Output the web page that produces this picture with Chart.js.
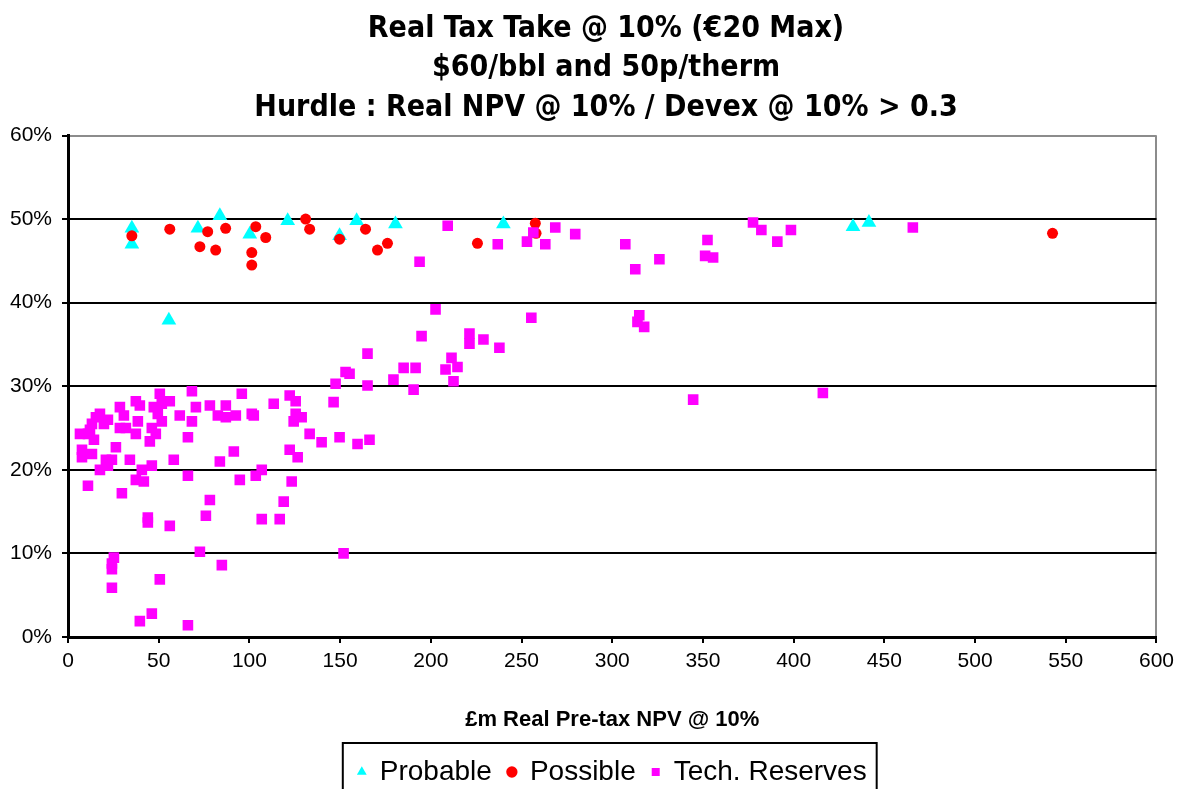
<!DOCTYPE html>
<html>
<head>
<meta charset="utf-8">
<script src="https://cdn.jsdelivr.net/npm/chart.js@4.4.0/dist/chart.umd.min.js"></script>
<style>
  html, body { margin: 0; padding: 0; background: #ffffff; }
  #wrap { width: 1180px; height: 789px; }
</style>
</head>
<body>
<div id="wrap"><canvas id="tax-chart" width="1180" height="789"></canvas></div>
<script>
// Title and axis text
const titleLines = [
  'Real Tax Take @ 10% (€20 Max)',
  '$60/bbl and 50p/therm',
  'Hurdle : Real NPV @ 10% / Devex @ 10% > 0.3'
];
const xAxisTitle = '£m Real Pre-tax NPV @ 10%';
const xTicks = [0, 50, 100, 150, 200, 250, 300, 350, 400, 450, 500, 550, 600];
const yTicks = [0, 10, 20, 30, 40, 50, 60];

// [pre-tax NPV £m, tax take %]
const probable = [
  [35.2, 48.9], [35.2, 47.0], [55.6, 37.9], [71.6, 48.9], [83.7, 50.4],
  [100.2, 48.2], [121.1, 49.8], [149.7, 48.0], [159.1, 49.8], [180.5, 49.4],
  [240.0, 49.4], [432.7, 49.1], [441.5, 49.6]
];

const possible = [
  [35.2, 48.0], [56.1, 48.8], [72.7, 46.7], [77.0, 48.5], [81.4, 46.3],
  [86.9, 48.9], [101.3, 46.0], [101.3, 44.5], [103.5, 49.1], [109.0, 47.8],
  [131.0, 50.0], [133.2, 48.8], [149.7, 47.6], [164.0, 48.8], [170.6, 46.3],
  [176.1, 47.1], [225.7, 47.1], [257.6, 49.5], [258.0, 48.3], [542.7, 48.3]
];

const techReserves = [
  [209.3, 49.2], [193.8, 44.9], [236.9, 47.0], [253.0, 47.3], [256.5, 48.4],
  [263.1, 47.0], [268.6, 49.0], [279.6, 48.2], [307.2, 47.0], [312.7, 44.0],
  [326.0, 45.2], [202.6, 39.2], [255.4, 38.2], [314.9, 38.5], [313.9, 37.7],
  [317.6, 37.1], [352.5, 47.5], [351.2, 45.6], [355.6, 45.4], [377.6, 49.6],
  [382.2, 48.7], [391.0, 47.3], [398.5, 48.7], [465.7, 49.0], [344.6, 28.4],
  [416.1, 29.2],
  [194.9, 36.0], [221.3, 36.3], [221.3, 35.1], [229.0, 35.6], [237.8, 34.6],
  [165.1, 33.9], [211.4, 33.4], [214.7, 32.3], [208.1, 32.0], [212.5, 30.6],
  [185.0, 32.2], [191.6, 32.2], [153.0, 31.7], [155.2, 31.5], [147.5, 30.3],
  [165.1, 30.1], [179.4, 30.8], [190.5, 29.6], [146.4, 28.1], [133.2, 24.3],
  [139.8, 23.3], [149.7, 23.9], [159.6, 23.1], [166.2, 23.6], [151.9, 10.0],
  [50.6, 29.1], [68.3, 29.4], [95.8, 29.1], [122.2, 28.9], [125.5, 28.2],
  [37.4, 28.2], [39.6, 27.7], [56.1, 28.2], [28.6, 27.5], [47.3, 27.5],
  [51.7, 27.9], [70.5, 27.5], [78.2, 27.7], [87.0, 27.7], [113.4, 27.9],
  [17.6, 26.7], [30.8, 26.5], [49.5, 26.7], [61.6, 26.5], [82.6, 26.5],
  [87.0, 26.3], [92.5, 26.5], [101.3, 26.7], [102.4, 26.5], [125.5, 26.7],
  [128.8, 26.3], [15.4, 26.3], [22.0, 26.0], [19.8, 25.5], [38.5, 25.8],
  [51.7, 25.8], [68.3, 25.8], [124.4, 25.8], [13.2, 25.5], [28.6, 25.0],
  [31.9, 25.0], [46.2, 25.0], [12.1, 24.8], [37.4, 24.3], [48.4, 24.3],
  [6.6, 24.3], [11.0, 24.3], [14.3, 23.6], [45.1, 23.4], [66.1, 23.9],
  [7.7, 22.4], [26.4, 22.7], [91.4, 22.2], [122.2, 22.4], [7.7, 21.5],
  [13.2, 21.9], [20.9, 21.2], [24.2, 21.2], [34.1, 21.2], [58.3, 21.2],
  [83.7, 21.0], [126.6, 21.5], [17.6, 20.0], [22.0, 20.5], [40.7, 20.0],
  [46.2, 20.5], [106.8, 20.0], [103.5, 19.3], [37.4, 18.8], [41.8, 18.6],
  [66.1, 19.3], [94.7, 18.8], [123.3, 18.6], [11.0, 18.1], [29.7, 17.2],
  [78.2, 16.4], [118.9, 16.2], [44.0, 14.3], [44.0, 13.7], [56.1, 13.3],
  [76.0, 14.5], [106.8, 14.1], [116.7, 14.1], [72.7, 10.2], [25.3, 9.5],
  [24.2, 8.8], [24.2, 8.1], [84.8, 8.6], [50.6, 6.9], [24.2, 5.9],
  [39.6, 1.9], [46.2, 2.8], [66.1, 1.4]
];

function toPoints(list) {
  return list.map(function(p) { return { x: p[0], y: p[1] }; });
}

Chart.defaults.font.family = "'Liberation Sans', Arial, sans-serif";
Chart.defaults.color = '#000000';

// Draws the frame round the legend, as in the spreadsheet original
const legendFrame = {
  id: 'legendFrame',
  afterDraw: function(chart) {
    const boxes = chart.legend && chart.legend.legendHitBoxes;
    if (!boxes || !boxes.length) return;
    let left = Infinity, right = -Infinity, top = Infinity;
    boxes.forEach(function(b) {
      left = Math.min(left, b.left);
      right = Math.max(right, b.left + b.width);
      top = Math.min(top, b.top);
    });
    const ctx = chart.ctx;
    ctx.save();
    ctx.strokeStyle = '#000000';
    ctx.lineWidth = 2;
    ctx.strokeRect(left - 15, top - 15, (right + 10) - (left - 15), 80);
    ctx.restore();
  }
};

new Chart(document.getElementById('tax-chart'), {
  type: 'scatter',
  data: {
    datasets: [
      {
        label: 'Probable',
        data: toPoints(probable),
        pointStyle: 'triangle',
        pointRadius: 8.5,
        pointHoverRadius: 8.5,
        backgroundColor: '#00ffff',
        borderColor: '#00ffff',
        borderWidth: 0,
        order: 3
      },
      {
        label: 'Possible',
        data: toPoints(possible),
        pointStyle: 'circle',
        pointRadius: 5.5,
        pointHoverRadius: 5.5,
        backgroundColor: '#ff0000',
        borderColor: '#ff0000',
        borderWidth: 0,
        order: 2
      },
      {
        label: 'Tech. Reserves',
        data: toPoints(techReserves),
        pointStyle: 'rect',
        pointRadius: 7.5,
        pointHoverRadius: 7.5,
        backgroundColor: '#ff00ff',
        borderColor: '#ff00ff',
        borderWidth: 0,
        order: 1
      }
    ]
  },
  options: {
    responsive: false,
    animation: false,
    layout: {
      // title in the original sits a little right of the canvas centre
      padding: { left: 0, right: -32, top: 0, bottom: 0 }
    },
    plugins: {
      title: {
        display: true,
        text: titleLines,
        color: '#000000',
        font: { family: "'DejaVu Sans Condensed', 'Liberation Sans', Arial, sans-serif", size: 30, weight: 'bold', lineHeight: 1.317 },
        padding: { top: 9, bottom: 8 }
      },
      legend: {
        position: 'bottom',
        fullSize: false,
        maxHeight: 47,
        labels: {
          usePointStyle: true,
          boxWidth: 8,
          boxHeight: 8,
          padding: 16,
          color: '#000000',
          font: { size: 28 },
          sort: function(a, b) { return a.datasetIndex - b.datasetIndex; }
        }
      },
      tooltip: { enabled: false }
    },
    scales: {
      x: {
        type: 'linear',
        min: 0,
        max: 600,
        afterBuildTicks: function(scale) {
          scale.ticks = xTicks.map(function(v) { return { value: v }; });
        },
        afterFit: function(scale) { scale.height = 105; },
        border: { display: true, color: '#000000', width: 3 },
        grid: {
          drawOnChartArea: true,
          drawTicks: true,
          tickLength: 6,
          tickWidth: 2,
          tickColor: '#000000',
          lineWidth: 2,
          color: function(ctx) {
            return ctx.tick && ctx.tick.value === 600 ? '#8c8c8c' : 'rgba(0,0,0,0)';
          }
        },
        ticks: {
          color: '#000000',
          font: { size: 21 },
          padding: 6,
          maxRotation: 0
        },
        title: {
          display: true,
          text: xAxisTitle,
          color: '#000000',
          font: { size: 22, weight: 'bold' },
          padding: { top: 4, bottom: 9 }
        }
      },
      y: {
        type: 'linear',
        min: 0,
        max: 60,
        afterBuildTicks: function(scale) {
          scale.ticks = yTicks.map(function(v) { return { value: v }; });
        },
        afterFit: function(scale) { scale.width = 68; },
        border: { display: true, color: '#000000', width: 3 },
        grid: {
          drawTicks: true,
          tickLength: 6,
          tickWidth: 2,
          tickColor: '#000000',
          lineWidth: 2,
          color: function(ctx) {
            if (ctx.tick && ctx.tick.value === 60) return '#8c8c8c';
            return '#000000';
          }
        },
        ticks: {
          color: '#000000',
          font: { size: 21 },
          padding: 10,
          callback: function(value) { return value + '%'; }
        }
      },
      // empty right-hand margin so the plot stops where the original does
      yMargin: {
        type: 'linear',
        position: 'right',
        display: true,
        afterFit: function(scale) { scale.width = 54; },
        border: { display: false },
        grid: { display: false, drawTicks: false },
        ticks: { display: false }
      }
    }
  },
  plugins: [legendFrame]
});
</script>
</body>
</html>
